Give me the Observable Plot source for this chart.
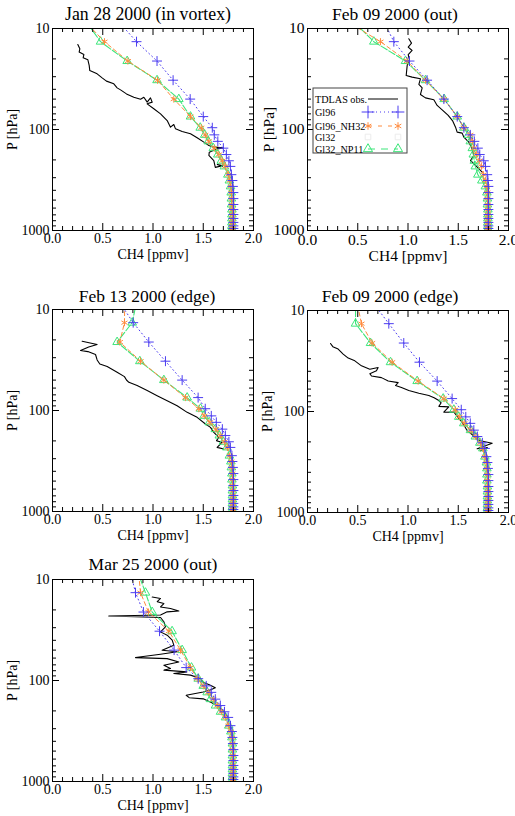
<!DOCTYPE html>
<html><head><meta charset="utf-8">
<script src="https://cdn.jsdelivr.net/npm/d3@7"></script>
<script src="https://cdn.jsdelivr.net/npm/@observablehq/plot@0.6"></script>
<style>
body{margin:0;background:#fff;}
#wrap{position:relative;width:515px;height:816px;overflow:hidden;font-family:'Liberation Serif',serif;color:#000;}
.title{position:absolute;white-space:nowrap;line-height:1;transform:translateX(-50%);font-family:'Liberation Serif',serif;font-weight:normal;}
</style></head><body><div id="wrap"></div>
<script>
// ---- model pressure levels (hPa) shared by all model runs ----
const levels = [6.5, 13.5, 21, 32.5, 50, 74.5, 96, 113, 131, 153, 177, 204, 232, 280, 320, 366, 421, 483, 553, 620, 694, 760, 832, 900, 955, 1000];

// ---- axis ticks ----
const xMajor = [0, 0.5, 1, 1.5, 2];
const xTickLabels = ["0.0", "0.5", "1.0", "1.5", "2.0"];
const xMinor = [0.1,0.2,0.3,0.4,0.6,0.7,0.8,0.9,1.1,1.2,1.3,1.4,1.6,1.7,1.8,1.9];
const yMajor = [10, 100, 1000];
const yTickLabels = ["10", "100", "1000"];
const yMinor = [20,30,40,50,60,70,80,90,200,300,400,500,600,700,800,900];

// ---- panel titles / legend names ----
const titles = ["Jan 28 2000 (in vortex)", "Feb 09 2000 (out)", "Feb 13 2000 (edge)", "Feb 09 2000 (edge)", "Mar 25 2000 (out)"];
const seriesNames = ["TDLAS obs.", "Gl96", "Gl96_NH32", "Gl32", "Gl32_NP11"];

// ---- Panel 1: Jan 28 2000 (in vortex) ----
const obs1Ch4 = [0.252,0.272,0.265,0.312,0.305,0.352,0.365,0.371,0.444,0.494,0.537,0.610,0.643,0.677,0.736,0.809,0.876,0.909,0.942,0.975,0.992,0.942,1.008,1.075,1.141,1.174,1.207,1.224,1.290,1.373,1.439,1.506,1.556,1.605,1.700,1.638,1.560,1.556,1.605,1.620,1.690,1.640,1.690];
const obs1P   = [14.4,15.9,17.1,18.1,19.5,20.4,23.2,26.1,28.1,30.8,33.2,35.3,38.7,40.5,44.4,47.9,50.1,47.9,53.6,48.6,53.6,55.7,62.4,70,81.5,94.8,89.2,98.5,104.7,110.4,120.9,133.4,143.9,149.6,152,155.4,167.6,180.8,202.8,237,228,222,232];
const p1Gl96 = [0.55,0.836,1.04,1.20,1.37,1.50,1.59,1.61,1.645,1.70,1.73,1.755,1.77,1.78,1.79,1.795,1.80,1.80,1.80,1.80,1.80,1.80,1.80,1.80,1.80,1.80];
const p1Nh32 = [0.21,0.517,0.75,1.045,1.207,1.373,1.48,1.52,1.555,1.61,1.655,1.69,1.72,1.75,1.765,1.775,1.78,1.785,1.785,1.79,1.79,1.79,1.79,1.79,1.79,1.79];
const p1Np11 = [0.25,0.478,0.743,1.04,1.257,1.373,1.47,1.515,1.55,1.60,1.645,1.68,1.71,1.745,1.76,1.772,1.778,1.78,1.782,1.785,1.785,1.785,1.785,1.785,1.785,1.785];

// ---- Panel 2: Feb 09 2000 (out) ----
const obs2Ch4 = [1.008,1.035,1.002,1.041,1.002,1.015,0.992,0.982,1.041,1.124,1.108,1.141,1.124,1.174,1.257,1.290,1.340,1.400,1.446,1.473,1.489,1.539,1.556,1.605,1.638,1.655,1.622,1.672,1.738];
const obs2P   = [12.65,13.97,15.3,16.5,18.1,20.4,23.2,29.2,30.3,31.5,35.8,38.7,45,48.6,50.8,57.8,63.9,72.6,82.7,94.8,106.2,108.6,119.1,133.4,155.4,180.8,202.8,227,264];
const p2Gl96 = [0.70,0.859,1.015,1.19,1.357,1.49,1.556,1.62,1.66,1.695,1.714,1.754,1.771,1.788,1.795,1.80,1.80,1.80,1.80,1.80,1.80,1.80,1.80,1.80,1.80,1.80];
const p2Nh32 = [0.20,0.726,0.99,1.174,1.357,1.49,1.555,1.62,1.64,1.655,1.68,1.71,1.73,1.75,1.77,1.785,1.79,1.79,1.795,1.795,1.795,1.795,1.795,1.795,1.795,1.795];
const p2Np11 = [0.34,0.66,0.975,1.174,1.36,1.49,1.556,1.60,1.62,1.64,1.65,1.66,1.67,1.695,1.735,1.77,1.785,1.79,1.79,1.795,1.795,1.795,1.795,1.795,1.795,1.795];

// ---- Panel 3: Feb 13 2000 (edge) ----
const obs3Ch4 = [0.295,0.444,0.360,0.279,0.352,0.428,0.444,0.471,0.544,0.643,0.716,0.736,0.760,0.842,0.942,1.041,1.141,1.240,1.340,1.439,1.522,1.572,1.605,1.655,1.632,1.688,1.638,1.704];
const obs3P   = [20.6,22.2,23.5,25.5,26.1,27.9,31.6,34.6,36.7,41.8,46.2,49.9,52.6,56.7,63.5,71.3,79.9,89.6,104.3,116.9,136,146.8,164.7,184.5,199,206.9,231.8,241];
const p3Gl96 = [0.59,0.803,0.958,1.124,1.29,1.449,1.52,1.58,1.63,1.69,1.72,1.755,1.77,1.785,1.79,1.795,1.80,1.80,1.80,1.80,1.80,1.80,1.80,1.80,1.80,1.80];
const p3Nh32 = [0.72,0.716,0.67,0.876,1.108,1.323,1.456,1.51,1.567,1.625,1.668,1.71,1.74,1.765,1.78,1.785,1.79,1.79,1.79,1.795,1.795,1.795,1.795,1.795,1.795,1.795];
const p3Np11 = [0.86,0.793,0.643,0.869,1.108,1.34,1.473,1.507,1.56,1.62,1.66,1.70,1.735,1.76,1.775,1.78,1.785,1.785,1.79,1.79,1.79,1.79,1.79,1.79,1.79,1.79];

// ---- Panel 4: Feb 09 2000 (edge) ----
const obs4Ch4 = [0.229,0.252,0.305,0.330,0.355,0.405,0.471,0.537,0.620,0.703,0.686,0.620,0.637,0.736,0.803,0.902,0.876,0.935,1.008,1.108,1.207,1.260,1.307,1.330,1.307,1.406,1.356,1.456,1.505,1.540,1.588,1.640,1.704,1.838,1.688,1.790,1.720];
const obs4P   = [21.2,22.8,24.1,25.5,27,29.6,31.5,35.3,38.1,36.7,39.6,42.2,44.5,46.2,49.9,51.8,55.3,58,62,66,69.5,73,77.8,82,89,90,101.6,101,117,128,154,170,194,206,234,228,245];
const p4Gl96 = [0.57,0.809,0.958,1.114,1.29,1.439,1.53,1.575,1.62,1.655,1.69,1.74,1.765,1.78,1.79,1.795,1.80,1.80,1.80,1.80,1.80,1.80,1.80,1.80,1.80,1.80];
const p4Nh32 = [0.47,0.537,0.643,0.842,1.101,1.357,1.47,1.51,1.56,1.625,1.675,1.72,1.745,1.765,1.78,1.785,1.79,1.79,1.79,1.795,1.795,1.795,1.795,1.795,1.795,1.795];
const p4Np11 = [0.478,0.478,0.627,0.826,1.091,1.35,1.456,1.505,1.555,1.622,1.67,1.715,1.745,1.765,1.78,1.785,1.785,1.785,1.79,1.79,1.79,1.79,1.79,1.79,1.79,1.79];

// ---- Panel 5: Mar 25 2000 (out) ----
const obs5Ch4 = [0.992,1.075,1.042,1.108,1.075,1.174,1.257,1.141,1.075,0.560,1.075,1.108,1.124,1.075,1.141,1.191,1.207,1.091,1.241,1.075,0.826,1.141,1.257,1.108,1.174,1.108,1.337,1.207,1.373,1.473,1.500,1.560,1.620,1.570,1.500,1.330,1.360,1.500,1.580,1.650,1.700,1.730];
const obs5P   = [14.9,15.4,16.6,17.3,18.7,19.4,20.5,20.9,22.5,23,23.8,26.2,29.4,33,35.6,39.9,44.7,50.1,52,54.9,59.3,60.7,65.5,70.5,76,79,82.2,85.3,88.5,95.5,104,110,118,124,130,140,148,152,165,180,200,220];
const p5Gl96 = [0.746,0.826,0.905,1.065,1.21,1.33,1.45,1.53,1.58,1.62,1.67,1.711,1.748,1.771,1.785,1.79,1.795,1.80,1.80,1.80,1.80,1.80,1.80,1.80,1.80,1.80];
const p5Nh32 = [0.845,0.876,0.955,1.158,1.274,1.373,1.44,1.50,1.55,1.60,1.64,1.68,1.72,1.75,1.775,1.785,1.79,1.79,1.795,1.795,1.795,1.795,1.795,1.795,1.795,1.795];
const p5Np11 = [0.806,0.925,0.992,1.19,1.29,1.383,1.45,1.50,1.539,1.572,1.622,1.672,1.721,1.754,1.775,1.785,1.79,1.79,1.79,1.79,1.79,1.79,1.79,1.79,1.79,1.79];

const BLUE = "#4b3cf0", ORANGE = "#ff8a3d", GREEN = "#3ce67a", PALE = "#ececec";
const FONT = "Liberation Serif, serif";

const panels = [
  {title: titles[0], left: 0,   top: 0,   tx: 148, ty: 21,  fs: 14,   lo: 28, tfs: 17.8, obsCh4: obs1Ch4, obsP: obs1P, gl96: p1Gl96, nh32: p1Nh32, np11: p1Np11},
  {title: titles[1], left: 255, top: 0,   tx: 395, ty: 21,  fs: 15.5, lo: 30, tfs: 17.5, obsCh4: obs2Ch4, obsP: obs2P, gl96: p2Gl96, nh32: p2Nh32, np11: p2Np11},
  {title: titles[2], left: 0,   top: 281, tx: 147, ty: 303, fs: 14,   lo: 28, tfs: 17.5, obsCh4: obs3Ch4, obsP: obs3P, gl96: p3Gl96, nh32: p3Nh32, np11: p3Np11},
  {title: titles[3], left: 255, top: 282, tx: 390, ty: 303, fs: 14,   lo: 28, tfs: 17.5, obsCh4: obs4Ch4, obsP: obs4P, gl96: p4Gl96, nh32: p4Nh32, np11: p4Np11},
  {title: titles[4], left: 0,   top: 551, tx: 153, ty: 571, fs: 14,   lo: 28, tfs: 17.5, obsCh4: obs5Ch4, obsP: obs5P, gl96: p5Gl96, nh32: p5Nh32, np11: p5Np11}
];

const wrap = document.getElementById("wrap");
const W = 201, H = 202;

function makePanel(s) {
  const obs = s.obsCh4.map((c, i) => ({ch4: c, p: s.obsP[i]}));
  const ser = vals => vals.map((c, i) => ({ch4: c, p: levels[i]}));
  const g96 = ser(s.gl96), n32 = ser(s.nh32), n11 = ser(s.np11);
  const svg = Plot.plot({
    width: 260, height: 262,
    marginLeft: 52, marginRight: 7, marginTop: 28, marginBottom: 32,
    style: {fontFamily: FONT, background: "transparent", overflow: "visible", color: "black", fontSize: s.fs + "px"},
    x: {domain: [0, 2]},
    y: {type: "log", domain: [1000, 10]},
    marks: [
      Plot.line(obs, {x: "ch4", y: "p", stroke: "black", strokeWidth: 1.1, clip: true}),
      Plot.line(n11, {x: "ch4", y: "p", stroke: GREEN, strokeWidth: 1.1, strokeDasharray: "7,2", clip: true}),
      Plot.dot(n11, {x: "ch4", y: "p", symbol: "triangle", r: 3.2, stroke: GREEN, fill: "none", strokeWidth: 1, clip: true}),
      Plot.line(n32, {x: "ch4", y: "p", stroke: ORANGE, strokeWidth: 1, strokeDasharray: "4,3", clip: true}),
      Plot.dot(n32, {x: "ch4", y: "p", symbol: "asterisk", r: 3.3, stroke: ORANGE, strokeWidth: 1, clip: true}),
      Plot.line(g96, {x: "ch4", y: "p", stroke: BLUE, strokeWidth: 1, strokeDasharray: "1,3", clip: true}),
      Plot.dot(g96, {x: "ch4", y: "p", symbol: "plus", r: 3.3, stroke: BLUE, strokeWidth: 1, clip: true}),
      Plot.frame({stroke: "black", strokeWidth: 1}),
      Plot.tickX(xMajor, {x: d => d, insetTop: H - 7, stroke: "black"}),
      Plot.tickX(xMajor, {x: d => d, insetBottom: H - 7, stroke: "black"}),
      Plot.tickX(xMinor, {x: d => d, insetTop: H - 4, stroke: "black"}),
      Plot.tickX(xMinor, {x: d => d, insetBottom: H - 4, stroke: "black"}),
      Plot.tickY(yMajor, {y: d => d, insetRight: W - 7, stroke: "black"}),
      Plot.tickY(yMajor, {y: d => d, insetLeft: W - 7, stroke: "black"}),
      Plot.tickY(yMinor, {y: d => d, insetRight: W - 4, stroke: "black"}),
      Plot.tickY(yMinor, {y: d => d, insetLeft: W - 4, stroke: "black"}),
      Plot.axisX({anchor: "bottom", ticks: xMajor, tickFormat: d => xTickLabels[xMajor.indexOf(d)], tickSize: 0, tickPadding: 3, fontSize: s.fs, label: "CH4 [ppmv]", labelAnchor: "center", labelArrow: "none", labelOffset: s.lo}),
      Plot.axisY({anchor: "left", ticks: yMajor, tickFormat: d => yTickLabels[yMajor.indexOf(d)], tickSize: 0, tickPadding: 3, fontSize: s.fs, label: "P [hPa]", labelAnchor: "center", labelArrow: "none", labelOffset: 45})
    ]
  });
  svg.style.position = "absolute";
  svg.style.left = s.left + "px";
  svg.style.top = s.top + "px";
  wrap.appendChild(svg);

  const t = document.createElement("div");
  t.className = "title";
  t.textContent = s.title;
  t.style.fontSize = s.tfs + "px";
  t.style.left = s.tx + "px";
  t.style.top = (s.ty - 0.8375 * s.tfs) + "px";
  wrap.appendChild(t);
}

panels.forEach(makePanel);

// ---- legend (inside panel 2) ----
(function legend() {
  const lg = d3.create("svg").attr("width", 100).attr("height", 70)
    .style("position", "absolute").style("left", "312px").style("top", "87px")
    .style("overflow", "visible");
  lg.append("rect").attr("x", 1).attr("y", 1).attr("width", 94).attr("height", 65)
    .attr("fill", "white").attr("stroke", "#444").attr("stroke-width", 1);
  const rowY = [12, 25, 39, 50, 62];
  const colors = ["black", BLUE, ORANGE, PALE, GREEN];
  const dashes = [null, "1,3", "4,6", null, "7,6"];
  const syms = [null, d3.symbolPlus, d3.symbolAsterisk, d3.symbolSquare2 || d3.symbolSquare, d3.symbolTriangle2 || d3.symbolTriangle];
  const sizes = [0, 55, 40, 40, 60];
  seriesNames.forEach((name, i) => {
    const y = rowY[i];
    lg.append("text").attr("x", 3).attr("y", y + 3.5).attr("font-family", FONT)
      .attr("font-size", 10.2).attr("fill", "black").text(name);
    if (i !== 3) {
      lg.append("line").attr("x1", 56).attr("x2", 86).attr("y1", y).attr("y2", y)
        .attr("stroke", colors[i]).attr("stroke-width", 1).attr("stroke-dasharray", dashes[i]);
    }
    if (syms[i]) {
      [56, 86].forEach(x => {
        lg.append("path").attr("d", d3.symbol(syms[i], sizes[i])())
          .attr("transform", `translate(${x},${y})`)
          .attr("fill", "none").attr("stroke", colors[i]).attr("stroke-width", 1);
      });
    }
  });
  wrap.appendChild(lg.node());
})();
</script>
</body></html>
